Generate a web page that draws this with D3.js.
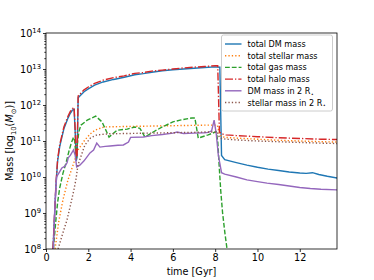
<!DOCTYPE html>
<html lang="en">
<head>
<meta charset="utf-8">
<title>Mass evolution</title>
<script src="https://cdn.jsdelivr.net/npm/d3@7"></script>
<style>
body { margin: 0; background: #fff; }
text { font-family: "DejaVu Sans", sans-serif; fill: #000; }
.axis path, .axis line { stroke: #000; stroke-width: 0.8px; }
.curve { fill: none; stroke-width: 1.4px; }
</style>
</head>
<body>
<script>
// time [Gyr] and log10(mass), one pair of arrays per curve
var dmT   = [0.33,0.4,0.47,0.55,0.65,0.75,0.85,0.95,1.05,1.15,1.25,1.33,1.38,1.43,1.47,1.52,1.6,1.8,2.0,2.3,2.7,3.2,3.7,4.2,4.6,5.0,5.5,6.0,6.5,7.0,7.5,8.0,8.22,8.3,8.45,9,9.5,10,10.5,11,11.5,12,12.3,12.6,12.9,13.3,13.8];
var dmV   = [8.0,8.85,9.75,10.45,10.85,11.1,11.35,11.5,11.65,11.77,11.86,11.88,11.25,10.45,10.55,12.2,12.25,12.37,12.45,12.55,12.64,12.71,12.77,12.84,12.87,12.91,12.95,12.98,13.0,13.02,13.04,13.06,13.05,10.6,10.48,10.4,10.33,10.27,10.22,10.18,10.14,10.11,10.1,10.12,10.07,10.02,9.97];

var starT = [0.43,0.6,0.8,1.04,1.28,1.51,1.84,2.1,2.32,2.74,3.5,4.5,5.5,6.5,7.5,8.1,8.2,8.3,8.5,9,10,11,12,13,13.8];
var starV = [8.0,8.75,9.36,9.92,10.33,10.75,11.03,11.2,11.3,11.39,11.4,11.41,11.42,11.43,11.44,11.44,11.2,11.12,11.1,11.08,11.05,11.02,11.0,10.98,10.97];

var gasT  = [0.35,0.45,0.55,0.65,0.8,0.95,1.1,1.2,1.3,1.36,1.42,1.48,1.55,1.65,1.95,2.35,2.65,2.98,3.36,3.84,4.2,4.44,4.68,5.07,5.5,6.0,6.34,6.9,7.04,7.2,7.67,8.05,8.12,8.2,8.26,8.35,8.46,8.56];
var gasV  = [8.0,8.7,9.3,9.7,10.1,10.4,10.75,10.95,11.1,11.0,10.5,10.9,11.25,11.44,11.58,11.69,11.53,11.11,11.3,11.33,11.39,11.35,11.11,11.25,11.39,11.53,11.58,11.64,11.64,11.08,11.17,11.26,11.0,10.2,9.64,9.0,8.44,8.0];

var haloT = [0.33,0.4,0.47,0.55,0.65,0.75,0.85,0.95,1.05,1.15,1.25,1.33,1.38,1.43,1.47,1.52,1.6,1.8,2.0,2.3,2.7,3.2,3.7,4.2,4.6,5.0,5.5,6.0,6.5,7.0,7.5,8.0,8.12,8.2,8.3,8.5,9,10,11,12,13,13.8];
var haloV = [8.0,8.9,9.8,10.5,10.9,11.15,11.4,11.55,11.7,11.82,11.9,11.93,11.3,10.5,10.6,12.25,12.3,12.42,12.5,12.6,12.69,12.76,12.81,12.88,12.9,12.94,12.97,13.0,13.03,13.05,13.07,13.09,13.09,11.25,11.2,11.17,11.15,11.12,11.09,11.07,11.05,11.04];

var dm2T  = [0.35,0.42,0.5,0.6,0.75,0.9,1.0,1.05,1.15,1.3,1.38,1.45,1.6,1.8,2.08,2.25,2.4,2.55,2.8,3.03,3.4,3.66,3.9,4.0,4.6,5.0,5.5,6.0,6.2,6.5,7.0,7.5,7.67,7.83,7.95,8.05,8.15,8.3,8.45,9,9.5,10,10.45,11,11.5,12,12.5,13,13.8];
var dm2V  = [8.0,9.2,10.0,10.1,10.25,10.3,10.4,10.53,10.6,10.75,10.6,10.28,10.33,10.45,10.67,10.75,10.94,10.83,10.85,10.86,10.88,10.89,10.97,11.1,11.11,11.15,11.18,11.22,11.25,11.21,11.22,11.23,11.24,11.28,11.58,11.2,10.6,10.12,10.08,10.0,9.92,9.87,9.83,9.79,9.75,9.71,9.68,9.66,9.64];

var star2T = [0.57,0.8,0.99,1.15,1.32,1.42,1.51,1.84,2.1,2.41,3,4,5,6,7,7.5,8.1,8.2,8.3,8.5,9,10,11,12,13,13.8];
var star2V = [8.0,8.45,8.8,9.2,9.64,9.95,10.33,10.89,11.08,11.17,11.2,11.21,11.22,11.23,11.24,11.25,11.25,11.1,11.07,11.05,11.03,11.0,10.98,10.96,10.94,10.93];

var xTicks = [0,2,4,6,8,10,12];
var yExps  = [8,9,10,11,12,13,14];

var w = 374, h = 280;
var pL = 46, pR = 337, pT = 33, pB = 249;

var svg = d3.select("body").append("svg")
    .attr("width", w)
    .attr("height", h);

var x = d3.scaleLinear().domain([0, 13.76]).range([pL, pR]);
var y = d3.scaleLog().domain([1e8, 1e14]).range([pB, pT]);

svg.append("clipPath").attr("id", "plotclip")
   .append("rect")
   .attr("x", pL).attr("y", pT)
   .attr("width", pR - pL).attr("height", pB - pT);

var series = [
    {t: dmT,    v: dmV,    color: "#1f77b4", dash: null,           label: "total DM mass"},
    {t: starT,  v: starV,  color: "#ff7f0e", dash: "1.3,2.1",      label: "total stellar  mass"},
    {t: gasT,   v: gasV,   color: "#2ca02c", dash: "4.8,2",        label: "total gas mass"},
    {t: haloT,  v: haloV,  color: "#d62728", dash: "8,2,1.3,2",    label: "total halo mass"},
    {t: dm2T,   v: dm2V,   color: "#9467bd", dash: null,           label: "DM mass in 2 R", star: true},
    {t: star2T, v: star2V, color: "#8c564b", dash: "1.3,2.1",      label: "stellar mass in 2 R", star: true}
];

var line = d3.line()
    .x(function(d){ return x(d[0]); })
    .y(function(d){ return y(Math.pow(10, d[1])); });

var plot = svg.append("g").attr("clip-path", "url(#plotclip)");
series.forEach(function(s){
    var pts = s.t.map(function(t, i){ return [t, s.v[i]]; });
    plot.append("path")
        .attr("class", "curve")
        .attr("d", line(pts))
        .attr("stroke", s.color)
        .attr("stroke-dasharray", s.dash);
});

// frame
svg.append("rect")
   .attr("x", pL).attr("y", pT)
   .attr("width", pR - pL).attr("height", pB - pT)
   .attr("fill", "none").attr("stroke", "#000").attr("stroke-width", 0.8);

// x axis
var xa = svg.append("g").attr("class", "axis")
    .attr("transform", "translate(0," + pB + ")")
    .call(d3.axisBottom(x).tickValues(xTicks).tickSize(3).tickPadding(2).tickFormat(d3.format("d")));
xa.select(".domain").remove();
xa.selectAll("text").style("font-size", "9.7px");

// y axis, minor ticks first
var minors = [];
yExps.slice(0, -1).forEach(function(e){
    for (var k = 2; k <= 9; k++) minors.push(k * Math.pow(10, e));
});
var ym = svg.append("g").attr("class", "axis")
    .attr("transform", "translate(" + pL + ",0)")
    .call(d3.axisLeft(y).tickValues(minors).tickSize(1.7).tickFormat(""));
ym.select(".domain").remove();

var ya = svg.append("g").attr("class", "axis")
    .attr("transform", "translate(" + pL + ",0)")
    .call(d3.axisLeft(y).tickValues(yExps.map(function(e){ return Math.pow(10, e); }))
          .tickSize(3).tickPadding(2).tickFormat(""));
ya.select(".domain").remove();
ya.selectAll(".tick").each(function(d){
    var txt = d3.select(this).select("text")
        .style("font-size", "9.7px");
    txt.append("tspan").text("10");
    txt.append("tspan").attr("dy", "-0.5em").style("font-size", "6.8px")
       .text(Math.round(Math.log10(d)));
});

// axis labels
svg.append("text")
   .attr("x", (pL + pR) / 2).attr("y", 275)
   .attr("text-anchor", "middle")
   .style("font-size", "9.7px")
   .text("time [Gyr]");

var yl = svg.append("text")
   .attr("transform", "translate(13," + ((pT + pB) / 2) + ") rotate(-90)")
   .attr("text-anchor", "middle")
   .style("font-size", "9.7px");
yl.append("tspan").text("Mass [log");
yl.append("tspan").attr("dy", "2.5").style("font-size", "6.8px").text("10");
yl.append("tspan").attr("dy", "-2.5").text("(");
yl.append("tspan").style("font-style", "italic").text("M");
yl.append("tspan").attr("dy", "2.5").style("font-size", "6.8px").text("⊙");
yl.append("tspan").attr("dy", "-2.5").text(")]");

// legend
var lg = svg.append("g");
lg.append("rect")
  .attr("x", 221.5).attr("y", 35)
  .attr("width", 111).attr("height", 76)
  .attr("rx", 2)
  .attr("fill", "#fff").attr("fill-opacity", 0.8)
  .attr("stroke", "#cccccc");

series.forEach(function(s, i){
    var cy = 44 + i * 11.7;
    lg.append("line")
      .attr("x1", 225).attr("x2", 241.5)
      .attr("y1", cy).attr("y2", cy)
      .attr("stroke", s.color).attr("stroke-width", 1.4)
      .attr("stroke-dasharray", s.dash);
    var t = lg.append("text")
      .attr("x", 247.5).attr("y", cy + 3)
      .style("font-size", "8.1px");
    t.append("tspan").text(s.label);
    if (s.star) {
        t.append("tspan").attr("dy", "1.8").style("font-size", "5.7px").text("⋆");
    }
});
</script>
</body>
</html>
